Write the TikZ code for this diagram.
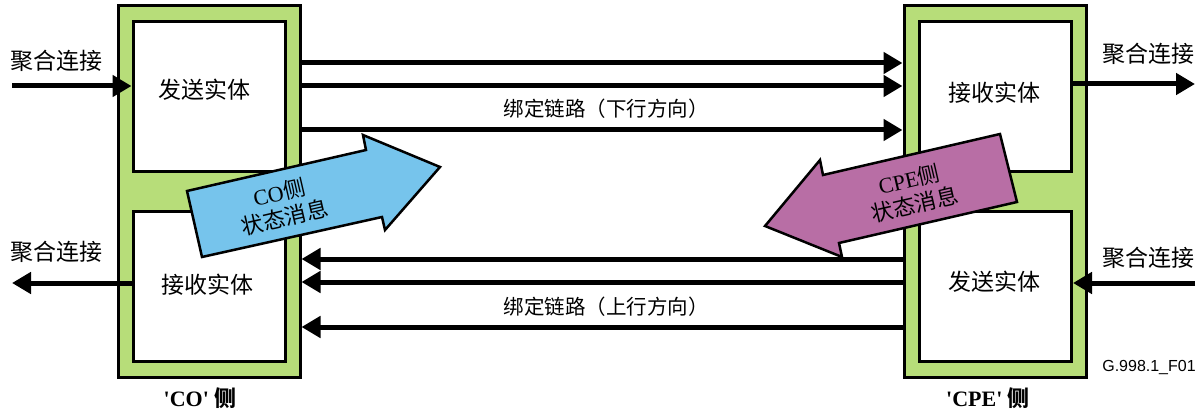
\documentclass[tikz,border=0pt]{standalone}
\usepackage{fontspec}
\setmainfont{Liberation Serif}
\newfontfamily\cjk{Noto Sans CJK SC}
\newfontfamily\arial{Liberation Sans}
\usetikzlibrary{arrows.meta}
\definecolor{grn}{HTML}{B7DD79}
\definecolor{blu}{HTML}{76C4EC}
\definecolor{pur}{HTML}{B86EA5}
\tikzset{
 side/.style={draw=black, line width=3pt, fill=grn, minimum width=182pt, minimum height=371pt, inner sep=0pt},
 entity/.style={draw=black, line width=3pt, fill=white, minimum width=152pt, minimum height=150pt, inner sep=0pt},
 lbl/.style={font=\cjk\fontsize{23}{25}\selectfont, inner sep=0pt},
 linklbl/.style={font=\cjk\fontsize{20.5}{22}\selectfont, inner sep=0pt},
 link/.style={line width=5pt, -{Triangle[length=19pt,width=21pt]}},
 fat/.style={draw=black, line width=2.5pt, line join=miter},
 fattxt/.style={rotate=13, align=center, inner sep=0pt, font=\fontsize{22}{26}\selectfont},
 sidename/.style={font=\bfseries\fontsize{22}{24}\selectfont, inner sep=0pt},
}
\begin{document}
\begin{tikzpicture}[x=1pt,y=-1pt]
\useasboundingbox[fill=white] (0,0) rectangle (1204,414);
% side frames
\node[side] (co) at (209,191.5) {};
\node[side] (cpe) at (995,191.5) {};
% entities
\node[entity] (cotx) at (209,97) {};
\node[entity] (corx) at (209,286) {};
\node[entity] (cperx) at (995.5,97) {};
\node[entity] (cpetx) at (995.5,286) {};
\node[lbl] (cotxT) at (204,90) {发送实体};
\node[lbl] (corxT) at (207,285) {接收实体};
\node[lbl] (cperxT) at (994,93) {接收实体};
\node[lbl] (cpetxT) at (994,282) {发送实体};
% aggregation connections
\coordinate (inL) at (12,86);
\coordinate (outL) at (12,283);
\coordinate (outR) at (1195,84);
\coordinate (inR) at (1195,283);
\draw[link] (inL) -- (cotx.west |- inL);
\draw[link] (corx.west |- outL) -- (outL);
\draw[link] (cperx.east |- outR) -- (outR);
\draw[link] (inR) -- (cpetx.east |- inR);
\node[lbl] (aggL1) at (56,61) {聚合连接};
\node[lbl] (aggL2) at (56,252) {聚合连接};
\node[lbl] (aggR1) at (1148,54) {聚合连接};
\node[lbl] (aggR2) at (1148,258) {聚合连接};
% bonded links
\foreach \y in {63,86,130} \draw[link] (co.east |- 0,\y) -- (cpe.west |- 0,\y);
\foreach \y in {259,282,327} \draw[link] (cpe.west |- 0,\y) -- (co.east |- 0,\y);
\node[linklbl] (dn) at (606,109) {绑定链路（下行方向）};
\node[linklbl] (up) at (606,307) {绑定链路（上行方向）};
% status message arrows
\draw[fat, fill=blu] (187,191) -- (366,150) -- (363,135) -- (440,167) -- (385,230) -- (382,217) -- (202,257) -- cycle;
\node[fattxt] (cotxt) at (282,205) {CO{\cjk 侧}\\{\cjk 状态消息}};
\draw[fat, fill=pur] (1000,134) -- (1017,202) -- (839,243) -- (842,257) -- (765,226) -- (820,160) -- (823,175) -- cycle;
\node[fattxt] (cpetxt) at (912,192) {CPE{\cjk 侧}\\{\cjk 状态消息}};
% names
\node[sidename] (coname) at (200,398) {\textquotesingle CO\textquotesingle\ {\cjk\bfseries 侧}};
\node[sidename] (cpename) at (988,398) {\textquotesingle CPE\textquotesingle\ {\cjk\bfseries 侧}};
\node[font=\arial\fontsize{16}{18}\selectfont, inner sep=0pt] (fig) at (1149,368) {G.998.1\_F01};
\end{tikzpicture}
\end{document}
